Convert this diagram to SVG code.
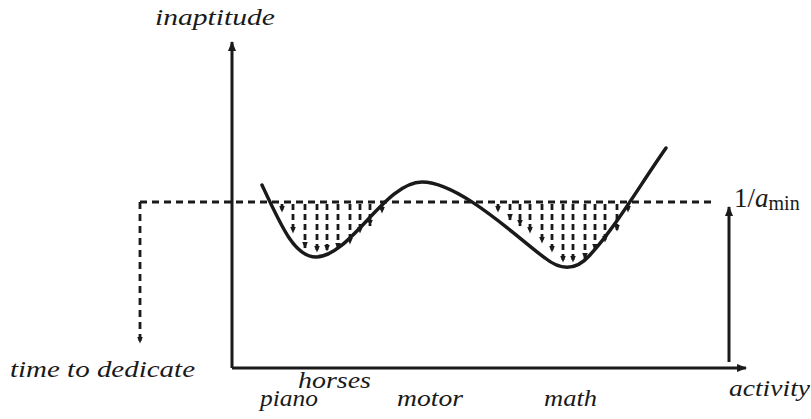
<svg xmlns="http://www.w3.org/2000/svg" width="811" height="419" viewBox="0 0 811 419">
<defs>
<marker id="ah" viewBox="0 0 10 8" refX="9" refY="4" markerWidth="10" markerHeight="8" markerUnits="userSpaceOnUse" orient="auto">
<path d="M0,0 L10,4 L0,8 Z" fill="#1a1a1a"/>
</marker>
<marker id="sh" viewBox="0 0 7 6" refX="6.5" refY="3" markerWidth="7" markerHeight="6" markerUnits="userSpaceOnUse" orient="auto">
<path d="M0,0 L7,3 L0,6 Z" fill="#1a1a1a"/>
</marker>
<style>
.ax{stroke:#1a1a1a;stroke-width:3;fill:none}
.dl{stroke:#1a1a1a;stroke-width:2.8;stroke-dasharray:7 5;fill:none}
.da{stroke:#1a1a1a;stroke-width:2.8;stroke-dasharray:6 4;fill:none;marker-end:url(#sh)}
.cv{stroke:#1a1a1a;stroke-width:3.5;fill:none;stroke-linecap:round}
text{font-family:"Liberation Serif",serif;font-style:italic;font-size:23px;fill:#1a1a1a}
text.big{font-size:27px}
.up{font-style:normal}
.sub{font-style:normal;font-size:20px}
</style>
</defs>
<g id="axes">
<path class="ax" d="M232,368 L232,42" marker-end="url(#ah)"/>
<path class="ax" d="M232,368 L746,368" marker-end="url(#ah)"/>
</g>
<g id="connectors">
<path class="dl" d="M140,202 L712,202"/>
<path class="dl" d="M140,202 L140,343" marker-end="url(#sh)"/>
<path class="ax" d="M729,362 L729,207" marker-end="url(#ah)"/>
<g id="well-left">
<path class="da" d="M282,204 L282,212"/>
<path class="da" d="M293,204 L293,233"/>
<path class="da" d="M305,204 L305,248"/>
<path class="da" d="M317,204 L317,252"/>
<path class="da" d="M327,204 L327,251"/>
<path class="da" d="M338,204 L338,249"/>
<path class="da" d="M350,204 L350,244"/>
<path class="da" d="M360,204 L360,233"/>
<path class="da" d="M370,204 L370,226"/>
<path class="da" d="M382,204 L382,213"/>
</g>
<g id="well-right">
<path class="da" d="M498,204 L498,212"/>
<path class="da" d="M510,204 L510,220"/>
<path class="da" d="M520,204 L520,226"/>
<path class="da" d="M530,204 L530,233"/>
<path class="da" d="M542,204 L542,243"/>
<path class="da" d="M552,204 L552,252"/>
<path class="da" d="M563,204 L563,262"/>
<path class="da" d="M573,204 L573,262"/>
<path class="da" d="M585,204 L585,259"/>
<path class="da" d="M595,204 L595,250"/>
<path class="da" d="M605,204 L605,242"/>
<path class="da" d="M617,204 L617,231"/>
<path class="da" d="M628,204 L628,212"/>
</g>
</g>
<g id="curve">
<path class="cv" d="M262,185 C282,228 295,257 316,257 C350,257 385,182 422,182 C460,182 520,240 545,258 C560,270 575,272 590,255 C615,228 640,185 666,148"/>
</g>
<g id="labels">
<text x="155" y="25" textLength="120" lengthAdjust="spacingAndGlyphs">inaptitude</text>
<text x="10" y="377" textLength="185" lengthAdjust="spacingAndGlyphs">time to dedicate</text>
<text x="298" y="388" textLength="73" lengthAdjust="spacingAndGlyphs">horses</text>
<text x="260" y="406" textLength="58" lengthAdjust="spacingAndGlyphs">piano</text>
<text x="397" y="406" textLength="66" lengthAdjust="spacingAndGlyphs">motor</text>
<text x="544" y="406" textLength="53" lengthAdjust="spacingAndGlyphs">math</text>
<text x="729" y="396" textLength="81" lengthAdjust="spacingAndGlyphs">activity</text>
<text class="big" x="734" y="207"><tspan class="up">1/</tspan>a<tspan class="sub" dy="3">min</tspan></text>
</g>
</svg>
